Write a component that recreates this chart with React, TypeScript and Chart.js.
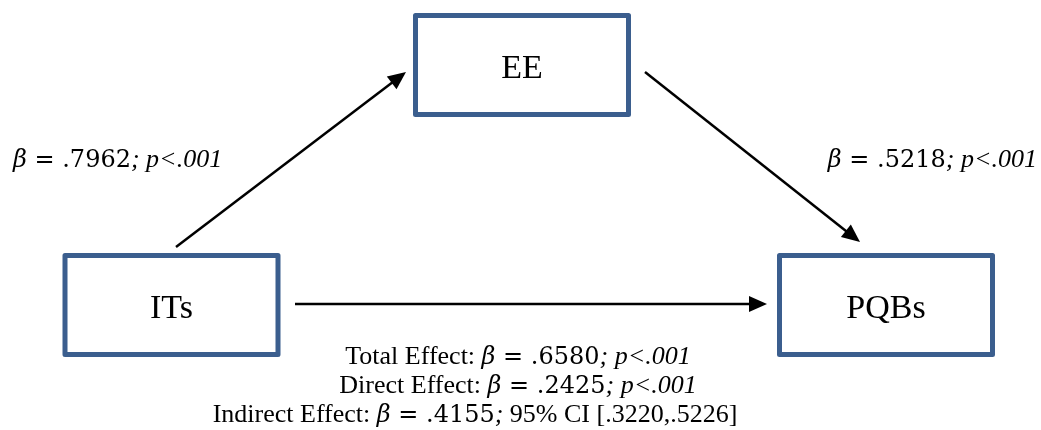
import { useEffect, useRef } from 'react';
import { Chart, registerables } from 'chart.js';

Chart.register(...registerables);

// Mediation model: ITs -> EE -> PQBs, with the direct ITs -> PQBs path
const constructs = ['ITs', 'EE', 'PQBs'];
const pathFrom = [0, 1, 0];
const pathTo = [1, 2, 2];
const pathBetas = [0.7962, 0.5218, 0.2425];
const pathPValues = ['p<.001', 'p<.001', 'p<.001'];

const effectNames = ['Total Effect', 'Direct Effect', 'Indirect Effect'];
const effectBetas = [0.658, 0.2425, 0.4155];
const effectPValues = ['p<.001', 'p<.001', ''];
const indirectCI = [0.322, 0.5226];

// Diagram geometry (in the chart's own x / y units)
const W = 1041;
const H = 430;
const BOX_W = 218;
const BOX_H = 104;
const boxCenters = [
  { x: 171.5, y: 305 },
  { x: 522, y: 65 },
  { x: 886, y: 305 },
];
const arrowEnds = [
  { from: { x: 176, y: 247 }, to: { x: 406, y: 72 } },
  { from: { x: 645, y: 72 }, to: { x: 860, y: 242 } },
  { from: { x: 295, y: 304 }, to: { x: 767, y: 304 } },
];
const pathLabelPos = [
  { x: 13, y: 167, align: 'left' },
  { x: 1037, y: 167, align: 'right' },
];
const effectLinePos = [
  { x: 518, y: 364 },
  { x: 518, y: 393 },
  { x: 475, y: 422 },
];

const BOX_COLOR = '#3B5E8E';
const TEXT_FONT = '26px "Liberation Serif"';
const ITALIC_FONT = 'italic 26px "Liberation Serif"';
const MATH_FONT = '24px "DejaVu Serif"';
const MATH_ITALIC = 'italic 24px "DejaVu Serif"';
const BOX_FONT = '34px "Liberation Serif"';

type Seg = { text: string; font: string };

const fmt = (v: number) => v.toFixed(4).replace(/^0/, '');

const betaSegs = (v: number): Seg[] => [
  { text: '\u03B2', font: MATH_ITALIC },
  { text: ' = ', font: MATH_FONT },
  { text: fmt(v), font: MATH_FONT },
];

const pSegs = (p: string): Seg[] => [
  { text: ';', font: ITALIC_FONT },
  { text: ' ', font: TEXT_FONT },
  { text: p, font: ITALIC_FONT },
];

function drawSegs(ctx: CanvasRenderingContext2D, segs: Seg[], x: number, y: number, align: string) {
  let total = 0;
  const widths = segs.map((s) => {
    ctx.font = s.font;
    const w = ctx.measureText(s.text).width;
    total += w;
    return w;
  });
  let cx = align === 'left' ? x : align === 'right' ? x - total : x - total / 2;
  ctx.textAlign = 'left';
  ctx.textBaseline = 'alphabetic';
  ctx.fillStyle = '#000';
  segs.forEach((s, i) => {
    ctx.font = s.font;
    ctx.fillText(s.text, cx, y);
    cx += widths[i];
  });
}

const diagramPlugin = {
  id: 'mediationDiagram',
  beforeDatasetsDraw(chart: any) {
    const { ctx, scales } = chart;
    const px = (v: number) => scales.x.getPixelForValue(v);
    const py = (v: number) => scales.y.getPixelForValue(v);
    ctx.save();

    // construct boxes
    constructs.forEach((name, i) => {
      const c = boxCenters[i];
      const x0 = px(c.x - BOX_W / 2);
      const x1 = px(c.x + BOX_W / 2);
      const y0 = py(c.y - BOX_H / 2);
      const y1 = py(c.y + BOX_H / 2);
      ctx.lineWidth = 5;
      ctx.lineJoin = 'round';
      ctx.strokeStyle = BOX_COLOR;
      ctx.fillStyle = '#fff';
      ctx.beginPath();
      ctx.rect(x0 + 2.5, y0 + 2.5, x1 - x0 - 5, y1 - y0 - 5);
      ctx.fill();
      ctx.stroke();
      ctx.font = BOX_FONT;
      ctx.fillStyle = '#000';
      ctx.textAlign = 'center';
      ctx.textBaseline = 'alphabetic';
      ctx.fillText(name, px(c.x), py(c.y) + 13);
    });

    // path coefficients for a and b
    pathLabelPos.forEach((pos, i) => {
      drawSegs(ctx, [...betaSegs(pathBetas[i]), ...pSegs(pathPValues[i])], px(pos.x), py(pos.y), pos.align);
    });

    // effect summary
    effectNames.forEach((name, i) => {
      const pos = effectLinePos[i];
      let segs: Seg[] = [{ text: name + ': ', font: TEXT_FONT }, ...betaSegs(effectBetas[i])];
      if (effectPValues[i]) {
        segs = segs.concat(pSegs(effectPValues[i]));
      } else {
        segs = segs.concat([
          { text: ';', font: ITALIC_FONT },
          { text: ' 95% CI [' + fmt(indirectCI[0]) + ',' + fmt(indirectCI[1]) + ']', font: TEXT_FONT },
        ]);
      }
      drawSegs(ctx, segs, px(pos.x), py(pos.y), 'center');
    });
    ctx.restore();
  },
  afterDatasetsDraw(chart: any) {
    const { ctx, scales } = chart;
    ctx.save();
    ctx.fillStyle = '#000';
    arrowEnds.forEach((a) => {
      const fx = scales.x.getPixelForValue(a.from.x);
      const fy = scales.y.getPixelForValue(a.from.y);
      const tx = scales.x.getPixelForValue(a.to.x);
      const ty = scales.y.getPixelForValue(a.to.y);
      const ang = Math.atan2(ty - fy, tx - fx);
      const len = 18;
      const half = 8;
      const bx = tx - len * Math.cos(ang);
      const by = ty - len * Math.sin(ang);
      ctx.beginPath();
      ctx.moveTo(tx, ty);
      ctx.lineTo(bx + half * Math.sin(ang), by - half * Math.cos(ang));
      ctx.lineTo(bx - half * Math.sin(ang), by + half * Math.cos(ang));
      ctx.closePath();
      ctx.fill();
    });
    ctx.restore();
  },
};

export default function App() {
  const canvasRef = useRef<HTMLCanvasElement | null>(null);

  useEffect(() => {
    if (!canvasRef.current) return;
    const datasets = pathFrom.map((f, i) => {
      const e = arrowEnds[i];
      const dx = e.to.x - e.from.x;
      const dy = e.to.y - e.from.y;
      const d = Math.hypot(dx, dy);
      const stop = 7;
      return {
        label: constructs[f] + ' \u2192 ' + constructs[pathTo[i]],
        data: [
          { x: e.from.x, y: e.from.y },
          { x: e.to.x - (dx / d) * stop, y: e.to.y - (dy / d) * stop },
        ],
        showLine: true,
        borderColor: '#000',
        borderWidth: 2.5,
        pointRadius: 0,
        fill: false,
      };
    });
    const chart = new Chart(canvasRef.current, {
      type: 'scatter',
      data: { datasets },
      options: {
        animation: false,
        responsive: false,
        devicePixelRatio: 1,
        layout: { padding: 0 },
        events: [],
        plugins: { legend: { display: false }, tooltip: { enabled: false } },
        scales: {
          x: { type: 'linear', min: 0, max: W, display: false },
          y: { type: 'linear', min: 0, max: H, reverse: true, display: false },
        },
      },
      plugins: [diagramPlugin],
    });
    return () => chart.destroy();
  }, []);

  return (
    <div style={{ position: 'fixed', left: 0, top: 0, width: W, height: H, background: '#fff' }}>
      <canvas ref={canvasRef} width={W} height={H} />
    </div>
  );
}
